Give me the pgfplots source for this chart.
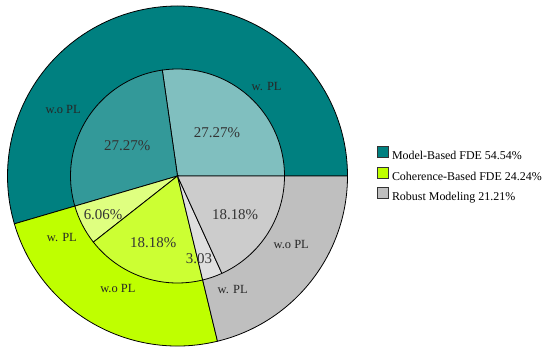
\documentclass[border=0pt]{standalone}
\usepackage{pgfplots}
\pgfplotsset{compat=1.18}
\usepackage{fontspec}
\setmainfont{Liberation Serif}
\begin{document}
\begin{tikzpicture}
\begin{axis}[
  at={(0,0)}, anchor=south west, scale only axis, width=550bp, height=356bp,
  xmin=0, xmax=550, ymin=0, ymax=356, hide axis, clip=false,
  legend cell align=left,
  legend style={draw=none, fill=none, at={(0.6855,0.508)}, anchor=west,
    font=\fontsize{12}{14}\selectfont, row sep=3.5pt, inner sep=0pt,
    nodes={inner xsep=3pt}},
  legend image code/.code={\draw[#1,line width=0.8bp] (0bp,-1.5bp) rectangle (11bp,9.5bp);},
]
\addlegendimage{fill=teal, draw=black!80}
\addlegendentry{Model-Based FDE 54.54\%}
\addlegendimage{fill=lime, draw=black!80}
\addlegendentry{Coherence-Based FDE 24.24\%}
\addlegendimage{fill=lightgray, draw=black!80}
\addlegendentry{Robust Modeling 21.21\%}
\path (axis cs:0,0) rectangle (axis cs:550,356);
% outer ring: category shares (percent)
\draw[fill=teal, line width=0.8bp] (axis cs:177.5,180) -- ++(0:170bp) arc[start angle=0, end angle={54.54*3.6}, radius=170bp] -- cycle;
\draw[fill=lime, line width=0.8bp] (axis cs:177.5,180) -- ++({54.54*3.6}:170bp) arc[start angle={54.54*3.6}, end angle={78.78*3.6}, radius=170bp] -- cycle;
\draw[fill=lightgray, line width=0.8bp] (axis cs:177.5,180) -- ++({78.78*3.6}:170bp) arc[start angle={78.78*3.6}, end angle=360, radius=170bp] -- cycle;
% inner ring: sub-shares (percent)
\draw[fill=teal!50, line width=0.8bp] (axis cs:177.5,180) -- ++(0:107bp) arc[start angle=0, end angle={27.27*3.6}, radius=107bp] -- cycle;
\draw[fill=teal!80, line width=0.8bp] (axis cs:177.5,180) -- ++({27.27*3.6}:107bp) arc[start angle={27.27*3.6}, end angle={54.54*3.6}, radius=107bp] -- cycle;
\draw[fill=lime!50, line width=0.8bp] (axis cs:177.5,180) -- ++({54.54*3.6}:107bp) arc[start angle={54.54*3.6}, end angle={60.60*3.6}, radius=107bp] -- cycle;
\draw[fill=lime!80, line width=0.8bp] (axis cs:177.5,180) -- ++({60.60*3.6}:107bp) arc[start angle={60.60*3.6}, end angle={78.78*3.6}, radius=107bp] -- cycle;
\draw[fill=lightgray!50, line width=0.8bp] (axis cs:177.5,180) -- ++({78.78*3.6}:107bp) arc[start angle={78.78*3.6}, end angle={81.81*3.6}, radius=107bp] -- cycle;
\draw[fill=lightgray!80, line width=0.8bp] (axis cs:177.5,180) -- ++({81.81*3.6}:107bp) arc[start angle={81.81*3.6}, end angle=360, radius=107bp] -- cycle;
% inner labels
\begin{scope}[every node/.style={font=\fontsize{15}{18}\selectfont, text=black!80, inner sep=0pt}]
\path (axis cs:177.5,180) ++(148.5:59bp) node {27.27\%};
\path (axis cs:177.5,180) ++(48:59bp) node {27.27\%};
\path (axis cs:177.5,180) ++(207.6:84bp) node {6.06\%};
\path (axis cs:177.5,180) ++(250:71bp) node {18.18\%};
\path (axis cs:177.5,180) ++(284.7:85bp) node {3.03};
\path (axis cs:177.5,180) ++(326:69.5bp) node {18.18\%};
\end{scope}
% outer labels
\begin{scope}[every node/.style={font=\fontsize{12.5}{15}\selectfont, text=black!85, inner sep=0pt}]
\path (axis cs:177.5,180) ++(150:132bp) node {w.o PL};
\path (axis cs:177.5,180) ++(45:126bp) node {w. PL};
\path (axis cs:177.5,180) ++(208:131bp) node {w. PL};
\path (axis cs:177.5,180) ++(242:127bp) node {w.o PL};
\path (axis cs:177.5,180) ++(296:126bp) node {w. PL};
\path (axis cs:177.5,180) ++(328.8:133bp) node {w.o PL};
\end{scope}
\end{axis}
\end{tikzpicture}
\end{document}
